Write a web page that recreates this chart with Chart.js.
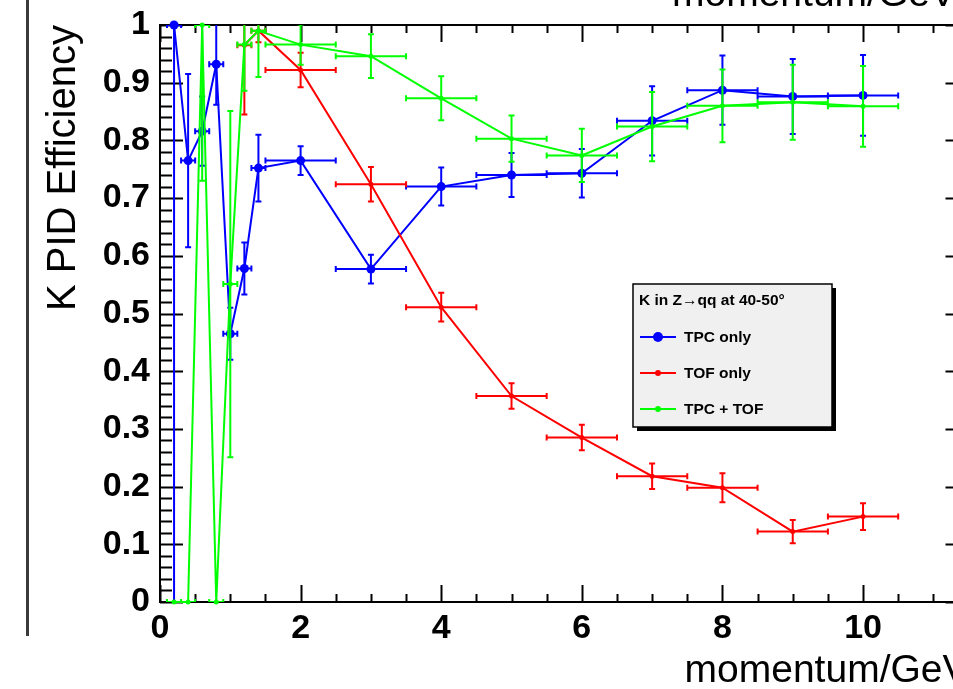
<!DOCTYPE html>
<html>
<head>
<meta charset="utf-8">
<script src="https://cdn.jsdelivr.net/npm/chart.js@4/dist/chart.umd.min.js"></script>
<style>
  html, body { margin: 0; padding: 0; background: #fff; overflow: hidden; }
  #wrap { position: relative; width: 953px; height: 689px; overflow: hidden; }
  canvas { position: absolute; left: 0; top: 0; }
</style>
</head>
<body>
<div id="wrap"><canvas id="c" width="1000" height="689"></canvas></div>
<script>
// ---------- data ----------
const tpcX    = [0.2, 0.4, 0.6, 0.8, 1.0, 1.2, 1.4, 2, 3, 4, 5, 6, 7, 8, 9, 10];
const tpcY    = [1.0, 0.765, 0.816, 0.932, 0.465, 0.578, 0.752, 0.765, 0.577, 0.72, 0.74, 0.743, 0.834, 0.887, 0.876, 0.878];
const tpcXErr = [0.1, 0.1, 0.1, 0.1, 0.1, 0.1, 0.1, 0.5, 0.5, 0.5, 0.5, 0.5, 0.5, 0.5, 0.5, 0.5];
const tpcYErr = [1.0, 0.15, 0.06, 0.07, 0.045, 0.045, 0.058, 0.025, 0.025, 0.033, 0.038, 0.042, 0.06, 0.06, 0.065, 0.07];

const tofX    = [1.2, 1.4, 2, 3, 4, 5, 6, 7, 8, 9, 10];
const tofY    = [0.965, 0.99, 0.922, 0.724, 0.511, 0.357, 0.285, 0.218, 0.198, 0.122, 0.148];
const tofXErr = [0.1, 0.1, 0.5, 0.5, 0.5, 0.5, 0.5, 0.5, 0.5, 0.5, 0.5];
const tofYErr = [0.12, 0.02, 0.03, 0.03, 0.025, 0.022, 0.022, 0.022, 0.025, 0.02, 0.023];

const bothX    = [0.2, 0.4, 0.6, 0.8, 1.0, 1.2, 1.4, 2, 3, 4, 5, 6, 7, 8, 9, 10];
const bothY    = [0, 0, 1.0, 0, 0.551, 0.966, 0.99, 0.966, 0.946, 0.873, 0.803, 0.774, 0.824, 0.86, 0.866, 0.859];
const bothXErr = [0.1, 0.1, 0.1, 0.1, 0.1, 0.1, 0.1, 0.5, 0.5, 0.5, 0.5, 0.5, 0.5, 0.5, 0.5, 0.5];
const bothYErr = [0, 0, 0.27, 0, 0.3, 0.08, 0.08, 0.035, 0.038, 0.038, 0.04, 0.046, 0.06, 0.063, 0.065, 0.07];

const seriesNames = ['TPC only', 'TOF only', 'TPC + TOF'];
const legendTitle = 'K in Z\u2192qq at 40-50\u00B0';
const xTickValues = [0, 2, 4, 6, 8, 10];
const xTickLabels = ['0', '2', '4', '6', '8', '10'];
const yTickValues = [0, 0.1, 0.2, 0.3, 0.4, 0.5, 0.6, 0.7, 0.8, 0.9, 1];
const yTickLabels = ['0', '0.1', '0.2', '0.3', '0.4', '0.5', '0.6', '0.7', '0.8', '0.9', '1'];
const xTitle = 'momentum/GeV';
const yTitle = 'K PID Efficiency';
const xMin = 0, xMax = 11.5, yMin = 0, yMax = 1;

const toPts = (xs, ys) => xs.map((x, i) => ({x: x, y: ys[i]}));
const FONT = '"Liberation Sans", Arial, Helvetica, sans-serif';

// ---------- plugins ----------
const rootFrame = {
  id: 'rootFrame',
  beforeDatasetsDraw(chart) {
    const {ctx, chartArea: a, scales: {x, y}} = chart;
    ctx.save();
    ctx.strokeStyle = '#000';
    ctx.lineWidth = 2;
    ctx.strokeRect(a.left, a.top, a.right - a.left, a.bottom - a.top);
    ctx.beginPath();
    for (let k = 0; k <= 50; k++) {
      const py = Math.round(y.getPixelForValue(k * 0.02)) + 0.5;
      const len = (k % 5 === 0) ? 23 : 12;
      ctx.moveTo(a.left, py); ctx.lineTo(a.left + len, py);
      ctx.moveTo(a.right, py); ctx.lineTo(a.right - len, py);
    }
    for (let k = 0; k * 0.5 <= xMax + 1e-9; k++) {
      const px = Math.round(x.getPixelForValue(k * 0.5)) + 0.5;
      const len = (k % 4 === 0) ? 17 : 8;
      ctx.moveTo(px, a.bottom); ctx.lineTo(px, a.bottom - len);
      ctx.moveTo(px, a.top); ctx.lineTo(px, a.top + len);
    }
    ctx.stroke();
    ctx.restore();
  }
};

const errorBars = {
  id: 'errorBars',
  beforeDatasetDraw(chart, args) {
    const ds = chart.data.datasets[args.index];
    if (!ds.errX) return;
    const {ctx, chartArea: a, scales: {x, y}} = chart;
    ctx.save();
    ctx.beginPath();
    ctx.rect(a.left, a.top, a.right - a.left, a.bottom - a.top);
    ctx.clip();
    ctx.strokeStyle = ds.borderColor;
    ctx.lineWidth = 2;
    const cap = 3;
    ctx.beginPath();
    ds.data.forEach((p, i) => {
      const px = x.getPixelForValue(p.x), py = y.getPixelForValue(p.y);
      const ex = ds.errX[i], ey = ds.errY[i];
      if (ex) {
        const x1 = x.getPixelForValue(p.x - ex), x2 = x.getPixelForValue(p.x + ex);
        ctx.moveTo(x1, py); ctx.lineTo(x2, py);
        ctx.moveTo(x1, py - cap); ctx.lineTo(x1, py + cap);
        ctx.moveTo(x2, py - cap); ctx.lineTo(x2, py + cap);
      }
      if (ey) {
        const y1 = y.getPixelForValue(p.y + ey), y2 = y.getPixelForValue(p.y - ey);
        ctx.moveTo(px, y1); ctx.lineTo(px, y2);
        ctx.moveTo(px - cap, y1); ctx.lineTo(px + cap, y1);
        ctx.moveTo(px - cap, y2); ctx.lineTo(px + cap, y2);
      }
    });
    ctx.stroke();
    ctx.restore();
  }
};

const decorations = {
  id: 'decorations',
  afterDraw(chart) {
    const ctx = chart.ctx;
    ctx.save();
    // pad border on the left
    ctx.fillStyle = '#3a3a3a';
    ctx.fillRect(26, 0, 3, 636);
    // title of the pad above (cut off)
    ctx.fillStyle = '#000';
    ctx.font = '39px ' + FONT;
    ctx.textAlign = 'left';
    ctx.textBaseline = 'alphabetic';
    ctx.fillText(xTitle, 672, 6);
    // legend box
    const bx = 633, by = 284, bw = 199, bh = 143;
    ctx.fillStyle = '#000';
    ctx.fillRect(bx + 4, by + 4, bw, bh);
    ctx.fillStyle = '#f0f0f0';
    ctx.fillRect(bx, by, bw, bh);
    ctx.strokeStyle = '#000';
    ctx.lineWidth = 1.5;
    ctx.strokeRect(bx, by, bw, bh);
    ctx.fillStyle = '#000';
    ctx.textAlign = 'left';
    ctx.textBaseline = 'middle';
    ctx.font = 'bold 15.5px ' + FONT;
    ctx.fillText(legendTitle, 639, 301);
    const rows = [337, 373, 409];
    chart.data.datasets.forEach((ds, i) => {
      const yy = rows[i];
      ctx.strokeStyle = ds.borderColor;
      ctx.lineWidth = 2;
      ctx.beginPath(); ctx.moveTo(640, yy); ctx.lineTo(676, yy); ctx.stroke();
      ctx.fillStyle = ds.borderColor;
      ctx.beginPath(); ctx.arc(658, yy, ds.pointRadius + 0.5, 0, Math.PI * 2); ctx.fill();
      ctx.fillStyle = '#000';
      ctx.font = 'bold 15.5px ' + FONT;
      ctx.fillText(ds.label, 684, yy + 1);
    });
    ctx.restore();
  }
};

// ---------- chart ----------
const mk = (label, xs, ys, exs, eys, color, r, order) => ({
  label: label,
  data: toPts(xs, ys),
  errX: exs, errY: eys,
  borderColor: color,
  backgroundColor: color,
  borderWidth: 2,
  pointRadius: r,
  pointBorderWidth: 0,
  pointBackgroundColor: color,
  showLine: true,
  tension: 0,
  clip: false,
  order: order
});

new Chart(document.getElementById('c'), {
  type: 'scatter',
  data: {
    datasets: [
      mk(seriesNames[0], tpcX, tpcY, tpcXErr, tpcYErr, '#0000ff', 4.5, 3),
      mk(seriesNames[1], tofX, tofY, tofXErr, tofYErr, '#ff0000', 2.5, 2),
      mk(seriesNames[2], bothX, bothY, bothXErr, bothYErr, '#00ff00', 2.5, 1)
    ]
  },
  options: {
    responsive: false,
    animation: false,
    devicePixelRatio: 1,
    layout: { padding: { top: 25, right: 31.5, left: 0, bottom: 0 } },
    plugins: { legend: { display: false }, tooltip: { enabled: false } },
    scales: {
      x: {
        type: 'linear', position: 'bottom', min: xMin, max: xMax,
        grid: { display: false, drawTicks: false },
        border: { display: false },
        afterBuildTicks: (s) => { s.ticks = xTickValues.map(v => ({value: v})); },
        afterFit: (s) => { s.height = 87; s.paddingLeft = 0; s.paddingRight = 0; s.paddingTop = 0; s.paddingBottom = 0; },
        ticks: {
          color: '#000', padding: 6, maxRotation: 0, autoSkip: false,
          font: { family: FONT, size: 34, weight: 'bold' },
          callback: (v) => { const i = xTickValues.indexOf(v); return i >= 0 ? xTickLabels[i] : ''; }
        },
        title: {
          display: true, text: xTitle, align: 'end', color: '#000',
          font: { family: FONT, size: 39, lineHeight: 0.9 },
          padding: { top: 0, bottom: 0 }
        }
      },
      y: {
        type: 'linear', position: 'left', min: yMin, max: yMax,
        grid: { display: false, drawTicks: false },
        border: { display: false },
        afterBuildTicks: (s) => { s.ticks = yTickValues.map(v => ({value: v})); },
        afterFit: (s) => { s.width = 160; s.paddingLeft = 0; s.paddingRight = 0; s.paddingTop = 0; s.paddingBottom = 0; },
        ticks: {
          color: '#000', padding: 10, autoSkip: false,
          font: { family: FONT, size: 34, weight: 'bold' },
          callback: (v) => { const i = yTickValues.findIndex(t => Math.abs(t - v) < 1e-9); return i >= 0 ? yTickLabels[i] : ''; }
        },
        title: {
          display: true, text: yTitle, align: 'end', color: '#000',
          font: { family: FONT, size: 40, lineHeight: 1 },
          padding: { top: 44, bottom: 0 }
        }
      }
    }
  },
  plugins: [rootFrame, errorBars, decorations]
});
</script>
</body>
</html>
